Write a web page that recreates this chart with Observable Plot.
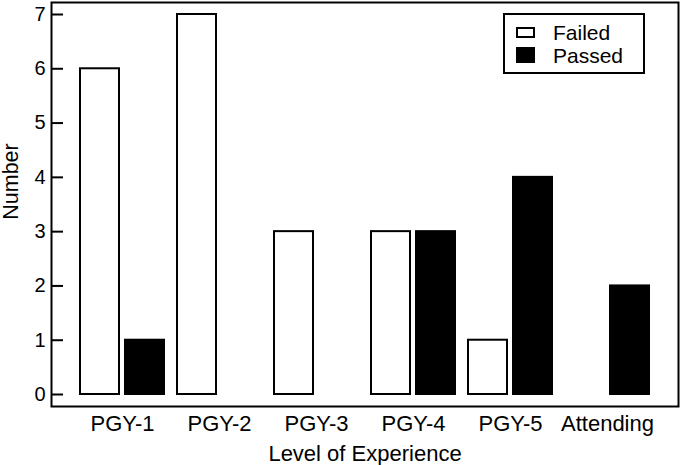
<!DOCTYPE html>
<html><head><meta charset="utf-8">
<script src="https://cdn.jsdelivr.net/npm/d3@7"></script>
<script src="https://cdn.jsdelivr.net/npm/@observablehq/plot@0.6"></script>
<style>
body{margin:0;background:#fff;}
#chart{position:relative;width:681px;height:465px;font-family:"Liberation Sans",Arial,sans-serif;color:#000;}
.legend{position:absolute;left:503px;top:13px;width:142px;height:61px;border:2px solid #000;box-sizing:border-box;background:#fff;}
.sw{position:absolute;left:11px;width:19px;box-sizing:border-box;}
.lt{position:absolute;left:48px;font-size:21px;line-height:21px;white-space:nowrap;}
</style></head><body><div id="chart"></div>
<script>
const categories = ["PGY-1", "PGY-2", "PGY-3", "PGY-4", "PGY-5", "Attending"];
const failedCounts = [6, 7, 3, 3, 1, 0];
const passedCounts = [1, 0, 0, 3, 4, 2];
const yTicks = [0, 1, 2, 3, 4, 5, 6, 7];
const statuses = ["Failed", "Passed"];
const xTitle = "Level of Experience";
const yTitle = "Number";

const rows = categories.flatMap((c, i) => [
  {level: c, status: "Failed", count: failedCounts[i]},
  {level: c, status: "Passed", count: passedCounts[i]}
]);

const plot = Plot.plot({
  width: 681, height: 465,
  marginLeft: 51, marginRight: 3, marginTop: 2, marginBottom: 59,
  style: {fontFamily: "'Liberation Sans', Arial, sans-serif", fontSize: "21px", background: "white", color: "black", overflow: "visible"},
  x: {domain: categories, paddingInner: 0.137, paddingOuter: 0.2895, align: 0.5},
  y: {domain: [-0.221, 7.221]},
  marks: [
    Plot.barY(rows, {filter: d => d.status === "Failed" && d.count > 0, x: "level", y: "count", fill: "white", stroke: "black", strokeWidth: 2, insetRight: 45}),
    Plot.barY(rows, {filter: d => d.status === "Passed" && d.count > 0, x: "level", y: "count", fill: "black", stroke: "black", strokeWidth: 2, insetLeft: 45}),
    Plot.frame({stroke: "black", strokeWidth: 2}),
    Plot.axisY({ticks: yTicks, tickSize: 12, dx: 12, tickPadding: 6, strokeWidth: 2, label: null, fontSize: 20}),
    Plot.axisX({tickSize: 0, tickPadding: 9, fontSize: 22, label: null}),
    Plot.axisX({tickSize: 0, ticks: [], label: xTitle, labelAnchor: "center", labelOffset: 54, labelArrow: "none", fontSize: 22}),
    Plot.text([yTitle], {frameAnchor: "left", rotate: -90, text: d => d, dx: -34, dy: -23, lineAnchor: "bottom", textAnchor: "middle", fontSize: 21.5})
  ]
});

const chart = document.getElementById("chart");
chart.appendChild(plot);

const legend = document.createElement("div");
legend.className = "legend";
const swTop = {Failed: 12, Passed: 32};
const swH = {Failed: 11, Passed: 16};
const txTop = {Failed: 7, Passed: 30};
statuses.forEach(s => {
  const sw = document.createElement("div");
  sw.className = "sw";
  sw.style.top = swTop[s] + "px";
  sw.style.height = swH[s] + "px";
  if (s === "Failed") { sw.style.border = "2px solid #000"; sw.style.background = "#fff"; }
  else { sw.style.background = "#000"; }
  legend.appendChild(sw);
  const t = document.createElement("div");
  t.className = "lt";
  t.style.top = txTop[s] + "px";
  t.textContent = s;
  legend.appendChild(t);
});
chart.appendChild(legend);
</script>
</body></html>
